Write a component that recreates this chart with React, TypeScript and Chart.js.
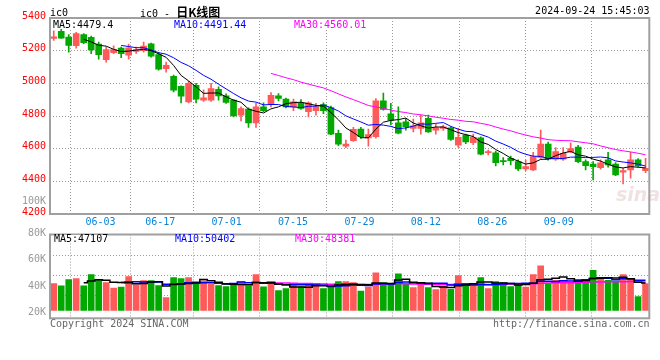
import React, { useEffect, useRef } from 'react';
import { Chart, registerables } from 'chart.js';

Chart.register(...registerables);

// ---------- data ----------
const dates = [
  '05-31', '06-03', '06-04', '06-05', '06-06', '06-07', '06-11', '06-12', '06-13', '06-14',
  '06-17', '06-18', '06-19', '06-20', '06-21', '06-24', '06-25', '06-26', '06-27', '06-28',
  '07-01', '07-02', '07-03', '07-04', '07-05', '07-08', '07-09', '07-10', '07-11', '07-12',
  '07-15', '07-16', '07-17', '07-18', '07-19', '07-22', '07-23', '07-24', '07-25', '07-26',
  '07-29', '07-30', '07-31', '08-01', '08-02', '08-05', '08-06', '08-07', '08-08', '08-09',
  '08-12', '08-13', '08-14', '08-15', '08-16', '08-19', '08-20', '08-21', '08-22', '08-23',
  '08-26', '08-27', '08-28', '08-29', '08-30', '09-02', '09-03', '09-04', '09-05', '09-06',
  '09-09', '09-10', '09-11', '09-12', '09-13', '09-18', '09-19', '09-20', '09-23', '09-24',
];

const opens = [
  5275, 5318, 5283, 5230, 5299, 5281, 5240, 5145, 5188, 5216,
  5172, 5196, 5200, 5242, 5176, 5090, 5043, 4982, 4886, 4988,
  4897, 4897, 4964, 4923, 4897, 4805, 4842, 4758, 4856, 4874,
  4923, 4903, 4856, 4880, 4826, 4832, 4870, 4852, 4694, 4616,
  4649, 4720, 4666, 4673, 4893, 4814, 4758, 4764, 4724, 4724,
  4785, 4714, 4724, 4728, 4622, 4683, 4636, 4667, 4576, 4575,
  4527, 4541, 4521, 4476, 4470, 4547, 4628, 4535, 4535, 4580,
  4610, 4521, 4506, 4484, 4531, 4506, 4456, 4470, 4531, 4466,
];

const highs = [
  5322, 5340, 5298, 5313, 5305, 5289, 5252, 5222, 5230, 5222,
  5240, 5222, 5252, 5246, 5190, 5130, 5050, 4985, 5013, 5000,
  4960, 5000, 4978, 4935, 4900, 4856, 4850, 4877, 4880, 4944,
  4938, 4910, 4903, 4900, 4886, 4877, 4880, 4860, 4714, 4653,
  4730, 4730, 4720, 4907, 4940, 4877, 4856, 4785, 4781, 4805,
  4805, 4749, 4745, 4735, 4724, 4690, 4690, 4673, 4591, 4585,
  4545, 4555, 4531, 4530, 4578, 4714, 4640, 4606, 4606, 4636,
  4620, 4531, 4521, 4531, 4578, 4515, 4480, 4578, 4540, 4541,
];

const lows = [
  5262, 5275, 5191, 5216, 5243, 5182, 5148, 5130, 5182, 5157,
  5148, 5183, 5191, 5160, 5080, 5069, 4947, 4880, 4880, 4880,
  4890, 4890, 4897, 4877, 4795, 4770, 4730, 4730, 4826, 4856,
  4893, 4850, 4832, 4840, 4795, 4805, 4815, 4685, 4618, 4606,
  4645, 4663, 4616, 4665, 4835, 4745, 4690, 4714, 4703, 4689,
  4700, 4688, 4712, 4650, 4608, 4630, 4625, 4561, 4561, 4494,
  4500, 4500, 4466, 4466, 4466, 4540, 4530, 4528, 4528, 4575,
  4515, 4470, 4409, 4475, 4486, 4435, 4384, 4420, 4490, 4453,
];

const closes = [
  5285, 5277, 5232, 5305, 5249, 5204, 5175, 5206, 5206, 5182,
  5218, 5206, 5228, 5166, 5086, 5110, 4958, 4921, 5000, 4903,
  4911, 4968, 4923, 4883, 4801, 4846, 4758, 4856, 4832, 4927,
  4907, 4856, 4886, 4846, 4880, 4856, 4832, 4689, 4628, 4628,
  4718, 4673, 4686, 4893, 4840, 4775, 4695, 4734, 4740, 4758,
  4703, 4728, 4734, 4657, 4669, 4642, 4669, 4567, 4582, 4514,
  4521, 4527, 4476, 4490, 4551, 4628, 4535, 4582, 4572, 4600,
  4521, 4496, 4490, 4514, 4500, 4440, 4466, 4531, 4494, 4480,
];

const volumes = [
  46700, 44500, 50700, 51800, 44500, 55700, 50700, 47800, 42300, 43300,
  53700, 45500, 49700, 49700, 44800, 32700, 52700, 51700, 52700, 47700,
  49500, 46300, 44700, 43700, 46300, 48700, 44500, 55700, 43500, 47700,
  39700, 41700, 44800, 43500, 46300, 46700, 41700, 43400, 48700, 48700,
  47700, 39400, 43400, 57700, 47700, 46000, 56700, 47000, 42700, 46000,
  42700, 40700, 44400, 41000, 54700, 46700, 46700, 52700, 41700, 48700,
  47700, 43700, 45400, 43400, 55700, 64700, 46700, 50000, 50000, 47400,
  51000, 51000, 60200, 51000, 50000, 49400, 55700, 51700, 33700, 46700,
];

const dateTickLabels = ['06-03', '06-17', '07-01', '07-15', '07-29', '08-12', '08-26', '09-09'];
const priceTickValues = [4200, 4400, 4600, 4800, 5000, 5200, 5400];
const volTickValues = [20000, 40000, 60000, 80000];
const volTickLabels = ['20K', '40K', '60K', '80K'];
const volGridValues = [35000, 55000, 75000];

// ---------- styles ----------
const MONO = '"DejaVu Sans Mono", "Liberation Mono", monospace';
const RED = '#ff5a5a';
const GREEN = '#00a800';
const GRID = '#9a9a9a';
const FRAME = '#a0a0a0';
const BLUE_LABEL = '#0a84d8';

function movingAverage(values: number[], n: number): (number | null)[] {
  return values.map((_, i) => {
    if (i < n - 1) return null;
    let s = 0;
    for (let k = i - n + 1; k <= i; k++) s += values[k];
    return s / n;
  });
}

const framePlugin = {
  id: 'frame',
  afterDraw(chart: any) {
    const { ctx, chartArea: a } = chart;
    ctx.save();
    ctx.strokeStyle = FRAME;
    ctx.lineWidth = 2;
    ctx.setLineDash([]);
    ctx.strokeRect(a.left, a.top, a.right - a.left, a.bottom - a.top);
    ctx.restore();
  },
};

const gridAxis = (showLabels: boolean) => ({
  type: 'linear' as const,
  axis: 'x' as const,
  position: 'bottom' as const,
  min: -0.96,
  max: 78,
  afterBuildTicks: (s: any) => {
    s.ticks = dateTickLabels.map((d) => ({ value: dates.indexOf(d) }));
  },
  afterFit: (s: any) => {
    s.height = showLabels ? 18 : 0;
    s.paddingLeft = 0;
    s.paddingRight = 0;
  },
  ticks: {
    display: showLabels,
    autoSkip: false,
    maxRotation: 0,
    padding: 2,
    color: BLUE_LABEL,
    font: { family: MONO, size: 10 },
    callback: (v: any) => dates[v as number] ?? '',
  },
  grid: { color: GRID, lineWidth: 1, drawTicks: false, borderDash: [1, 2] },
  border: { display: false, dash: [1, 2] },
});

export default function App() {
  const priceRef = useRef<HTMLCanvasElement>(null);
  const volRef = useRef<HTMLCanvasElement>(null);

  useEffect(() => {
    const colors = closes.map((c, i) => (c >= opens[i] ? RED : GREEN));
    const lineDs = (label: string, data: (number | null)[], color: string, yAxisID: string, width: number, stepped: any) => ({
      type: 'line' as const,
      label,
      data,
      borderColor: color,
      backgroundColor: color,
      borderWidth: width,
      pointRadius: 0,
      fill: false,
      tension: 0,
      stepped,
      xAxisID: 'x',
      yAxisID,
      order: 0,
    });

    const price = new Chart(priceRef.current as HTMLCanvasElement, {
      type: 'bar',
      data: {
        labels: dates,
        datasets: [
          lineDs('MA5', movingAverage(closes, 5), '#000000', 'y', 1, false),
          lineDs('MA10', movingAverage(closes, 10), '#0000ff', 'y', 1, false),
          lineDs('MA30', movingAverage(closes, 30), '#ff00ff', 'y', 1, false),
          {
            type: 'bar',
            label: 'body',
            data: opens.map((o, i) => [Math.min(o, closes[i]), Math.max(o, closes[i])]) as any,
            backgroundColor: colors,
            barThickness: 6,
            minBarLength: 1,
            grouped: false,
            xAxisID: 'x',
            yAxisID: 'y',
            order: 1,
          },
          {
            type: 'bar',
            label: 'wick',
            data: lows.map((l, i) => [l, highs[i]]) as any,
            backgroundColor: colors,
            barThickness: 1,
            grouped: false,
            xAxisID: 'x',
            yAxisID: 'y',
            order: 2,
          },
        ] as any,
      },
      options: {
        responsive: false,
        animation: false,
        devicePixelRatio: 1,
        layout: { padding: { top: 18, right: 10.7, bottom: 0, left: 0 } },
        plugins: { legend: { display: false }, tooltip: { enabled: false } },
        scales: {
          x: { type: 'category', display: false, offset: true },
          x2: gridAxis(true) as any,
          y: {
            type: 'linear',
            position: 'left',
            min: 4200,
            max: 5400,
            afterBuildTicks: (s: any) => {
              s.ticks = priceTickValues.map((v) => ({ value: v }));
            },
            afterFit: (s: any) => {
              s.width = 50;
              s.paddingTop = 0;
              s.paddingBottom = 0;
            },
            ticks: {
              color: '#ff0000',
              font: { family: MONO, size: 10 },
              padding: 4,
              labelOffset: -2,
              autoSkip: false,
              callback: (v: any) => String(v),
            },
            grid: { color: GRID, lineWidth: 1, drawTicks: false, borderDash: [1, 2] } as any,
            border: { display: false, dash: [1, 2] },
          },
        },
      },
      plugins: [framePlugin],
    });

    const vol = new Chart(volRef.current as HTMLCanvasElement, {
      type: 'bar',
      data: {
        labels: dates,
        datasets: [
          lineDs('MA5', movingAverage(volumes, 5), '#000000', 'yv', 1.5, 'middle'),
          lineDs('MA10', movingAverage(volumes, 10), '#0000ff', 'yv', 1.5, 'middle'),
          lineDs('MA30', movingAverage(volumes, 30), '#ff00ff', 'yv', 1.5, 'middle'),
          {
            type: 'bar',
            label: 'volume',
            data: volumes,
            base: 20000,
            backgroundColor: colors,
            barThickness: 6,
            grouped: false,
            xAxisID: 'x',
            yAxisID: 'yv',
            order: 1,
          },
        ] as any,
      },
      options: {
        responsive: false,
        animation: false,
        devicePixelRatio: 1,
        layout: { padding: { top: 10.5, right: 10.7, bottom: 5.7, left: 0 } },
        plugins: { legend: { display: false }, tooltip: { enabled: false } },
        scales: {
          x: { type: 'category', display: false, offset: true },
          x2: gridAxis(false) as any,
          yl: {
            type: 'linear',
            position: 'left',
            min: 16100,
            max: 80000,
            afterBuildTicks: (s: any) => {
              s.ticks = volTickValues.map((v) => ({ value: v }));
            },
            afterFit: (s: any) => {
              s.width = 50;
              s.paddingTop = 0;
              s.paddingBottom = 0;
            },
            ticks: {
              color: '#999999',
              font: { family: MONO, size: 10 },
              padding: 4,
              labelOffset: -1,
              autoSkip: false,
              callback: (v: any) => volTickLabels[volTickValues.indexOf(v as number)] ?? '',
            },
            grid: { display: false, drawTicks: false },
            border: { display: false },
          },
          yv: {
            type: 'linear',
            position: 'left',
            min: 12000,
            max: 96000,
            afterBuildTicks: (s: any) => {
              s.ticks = volGridValues.map((v) => ({ value: v }));
            },
            afterFit: (s: any) => {
              s.width = 0;
              s.paddingTop = 0;
              s.paddingBottom = 0;
            },
            ticks: { display: false },
            grid: { color: GRID, lineWidth: 1, drawTicks: false, borderDash: [1, 2] } as any,
            border: { display: false, dash: [1, 2] },
          },
        },
      },
      plugins: [framePlugin],
    });

    return () => {
      price.destroy();
      vol.destroy();
    };
  }, []);

  const txt = (extra: React.CSSProperties): React.CSSProperties => ({
    position: 'absolute',
    fontFamily: MONO,
    fontSize: 10,
    lineHeight: '10px',
    whiteSpace: 'pre',
    ...extra,
  });
  const legend = (extra: React.CSSProperties): React.CSSProperties => ({
    position: 'absolute',
    fontFamily: MONO,
    fontSize: 10,
    lineHeight: '8px',
    height: 8,
    background: '#fff',
    whiteSpace: 'pre',
    ...extra,
  });

  return (
    <div style={{ position: 'fixed', left: 0, top: 0, width: 660, height: 360, background: '#fff', overflow: 'hidden' }}>
      <canvas ref={priceRef} width={660} height={232} style={{ position: 'absolute', left: 0, top: 0 }} />
      <canvas ref={volRef} width={660} height={100} style={{ position: 'absolute', left: 0, top: 224 }} />

      <div style={txt({ left: 50, top: 8, color: '#000' })}>ic0</div>
      <div style={txt({ left: 140, top: 6, color: '#000', lineHeight: '12px' })}>
        {'ic0 - '}
        <span style={{ fontFamily: '"Noto Sans CJK SC", sans-serif', fontSize: 12, fontWeight: 'bold' }}>日K线图</span>
      </div>
      <div style={txt({ right: 10.5, top: 6, color: '#000' })}>2024-09-24 15:45:03</div>

      <div style={legend({ left: 53, top: 20.5, color: '#000' })}>MA5:4479.4</div>
      <div style={legend({ left: 174, top: 20.5, color: '#0000ff' })}>MA10:4491.44</div>
      <div style={legend({ left: 294, top: 20.5, color: '#ff00ff' })}>MA30:4560.01</div>

      <div style={txt({ right: 614, top: 195.5, color: '#999' })}>100K</div>
      <div
        style={{
          position: 'absolute',
          left: 616,
          top: 184,
          fontFamily: '"DejaVu Sans", sans-serif',
          fontSize: 19,
          fontWeight: 'bold',
          fontStyle: 'italic',
          color: 'rgba(200,160,160,0.3)',
          lineHeight: '20px',
        }}
      >
        sina
      </div>

      <div style={legend({ left: 54, top: 235, color: '#000' })}>MA5:47107</div>
      <div style={legend({ left: 175, top: 235, color: '#0000ff' })}>MA10:50402</div>
      <div style={legend({ left: 295, top: 235, color: '#ff00ff' })}>MA30:48381</div>

      <div style={txt({ left: 50, top: 319, color: '#666' })}>Copyright 2024 SINA.COM</div>
      <div style={txt({ right: 10.5, top: 319, color: '#666' })}>http://finance.sina.com.cn</div>
    </div>
  );
}
